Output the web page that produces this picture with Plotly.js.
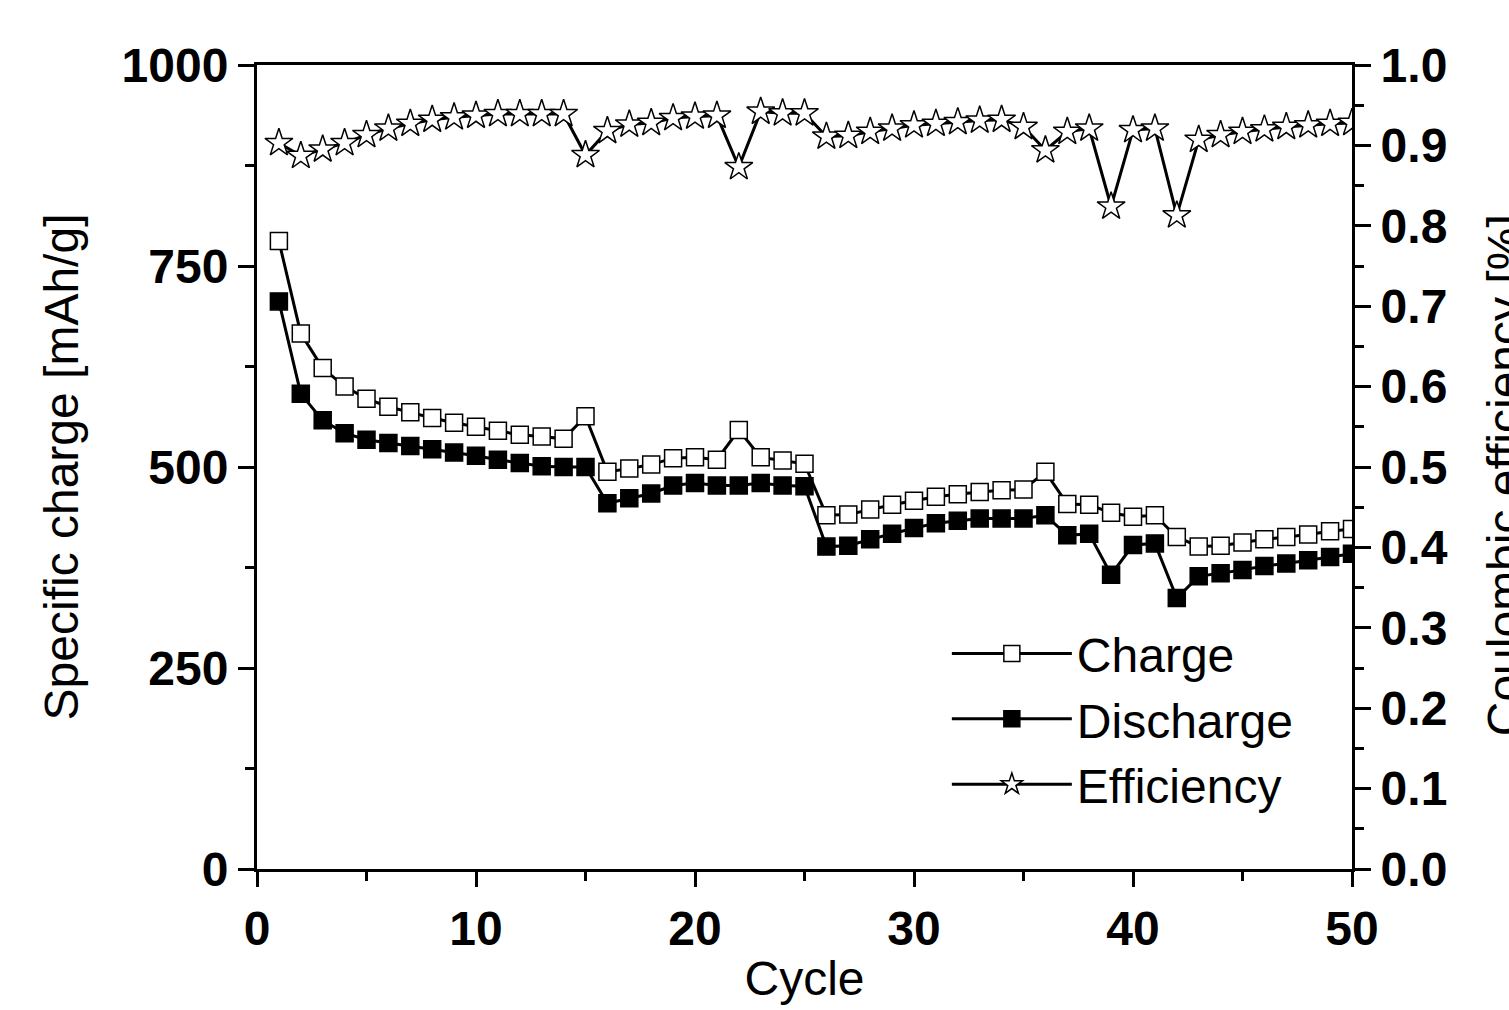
<!DOCTYPE html>
<html>
<head>
<meta charset="utf-8">
<script src="https://cdn.plot.ly/plotly-3.0.1.min.js"></script>
<style>html,body{margin:0;padding:0;background:#fff;}#chart{width:1509px;height:1010px;}</style>
</head>
<body>
<div id="chart"></div>
<script>
const cycles = Array.from({length: 50}, (_, i) => i + 1);
const charge = [781, 666, 623, 600, 585, 575, 568, 561, 555, 550, 545, 540, 538, 535, 563,
  494, 498, 503, 511, 512, 509, 546, 512, 508, 504,
  440, 441, 447, 453, 458, 463, 466, 469, 471, 472, 494, 454, 453, 443, 438,
  440, 413, 401, 402, 406, 410, 413, 416, 420, 423];
const discharge = [706, 591, 558, 542, 534, 530, 526, 522, 518, 514, 509, 505, 501, 500, 500,
  455, 461, 467, 477, 480, 477, 477, 480, 477, 476,
  401, 402, 410, 417, 424, 430, 433, 436, 436, 436, 440, 415, 417, 366, 403,
  405, 337, 364, 368, 372, 377, 380, 384, 388, 392];
const efficiency = [0.903, 0.887, 0.895, 0.903, 0.913, 0.921, 0.927, 0.932, 0.935, 0.937,
  0.939, 0.939, 0.939, 0.939, 0.888, 0.918, 0.926, 0.928, 0.934, 0.936,
  0.937, 0.873, 0.942, 0.940, 0.940, 0.911, 0.912, 0.917, 0.921, 0.925,
  0.927, 0.929, 0.931, 0.932, 0.923, 0.894, 0.917, 0.921, 0.824, 0.919,
  0.921, 0.813, 0.907, 0.913, 0.917, 0.920, 0.923, 0.925, 0.927, 0.928];
const xTicks = [0, 10, 20, 30, 40, 50];
const yTicks = [0, 250, 500, 750, 1000];
const y2Ticks = [0, 0.1, 0.2, 0.3, 0.4, 0.5, 0.6, 0.7, 0.8, 0.9, 1.0];
const rightTitle = 'Coulombic efficiency [%]';

const tickFont = {family: '"Liberation Sans", Arial, sans-serif', size: 48, color: '#000', weight: 'bold'};
const titleFont = {family: '"Liberation Sans", Arial, sans-serif', size: 48, color: '#000'};

const traces = [
  {x: cycles, y: charge, name: 'Charge', type: 'scatter', mode: 'lines+markers',
   line: {color: '#000', width: 3},
   marker: {symbol: 'square', size: 17, color: '#fff', line: {color: '#000', width: 1.5}}},
  {x: cycles, y: discharge, name: 'Discharge', type: 'scatter', mode: 'lines+markers',
   line: {color: '#000', width: 3},
   marker: {symbol: 'square', size: 17, color: '#000', line: {color: '#000', width: 1.5}}},
  {x: cycles, y: efficiency, name: 'Efficiency', type: 'scatter', mode: 'lines+markers', yaxis: 'y2',
   line: {color: '#000', width: 3},
   marker: {symbol: 'star', size: 21, color: '#fff', line: {color: '#000', width: 1.5}}}
];

const layout = {
  width: 1509, height: 1010,
  margin: {l: 257, r: 157, t: 65, b: 141},
  paper_bgcolor: '#fff', plot_bgcolor: '#fff',
  showlegend: true,
  legend: {x: 0.63, y: 0.315, xanchor: 'left', yanchor: 'top', bgcolor: 'rgba(0,0,0,0)',
    font: {family: '"Liberation Sans", Arial, sans-serif', size: 48, color: '#000'},
    itemwidth: 120, tracegroupgap: 0},
  xaxis: {range: [0, 50], tickvals: xTicks, ticktext: xTicks.map(String),
    ticks: 'outside', ticklen: 15, tickwidth: 3, tickcolor: '#000',
    showline: true, linewidth: 3, linecolor: '#000', mirror: true,
    showgrid: false, zeroline: false, tickfont: tickFont,
    minor: {dtick: 5, tick0: 0, ticks: 'outside', ticklen: 9, tickwidth: 3, tickcolor: '#000', showgrid: false},
    title: {text: 'Cycle', font: titleFont, standoff: 8}},
  yaxis: {range: [0, 1000], tickvals: yTicks, ticktext: yTicks.map(String),
    ticks: 'outside', ticklen: 16, tickwidth: 3, tickcolor: '#000',
    showline: true, linewidth: 3, linecolor: '#000',
    showgrid: false, zeroline: false, tickfont: tickFont,
    minor: {dtick: 125, tick0: 0, ticks: 'outside', ticklen: 9, tickwidth: 3, tickcolor: '#000', showgrid: false},
    title: {text: 'Specific charge [mAh/g]', font: titleFont, standoff: 28}},
  yaxis2: {range: [0, 1.0], overlaying: 'y', side: 'right', anchor: 'x',
    tickvals: y2Ticks, ticktext: y2Ticks.map(v => v.toFixed(1)),
    ticks: 'outside', ticklen: 16, tickwidth: 3, tickcolor: '#000',
    showline: true, linewidth: 3, linecolor: '#000',
    showgrid: false, zeroline: false, tickfont: tickFont,
    minor: {dtick: 0.05, tick0: 0, ticks: 'outside', ticklen: 9, tickwidth: 3, tickcolor: '#000', showgrid: false},
    automargin: false},
  annotations: [{text: rightTitle, xref: 'paper', yref: 'paper', x: 1.113, y: 0.49,
    xanchor: 'left', yanchor: 'middle', textangle: -90, showarrow: false, font: titleFont}]
};

Plotly.newPlot('chart', traces, layout, {displayModeBar: false, staticPlot: true});
</script>
</body>
</html>
